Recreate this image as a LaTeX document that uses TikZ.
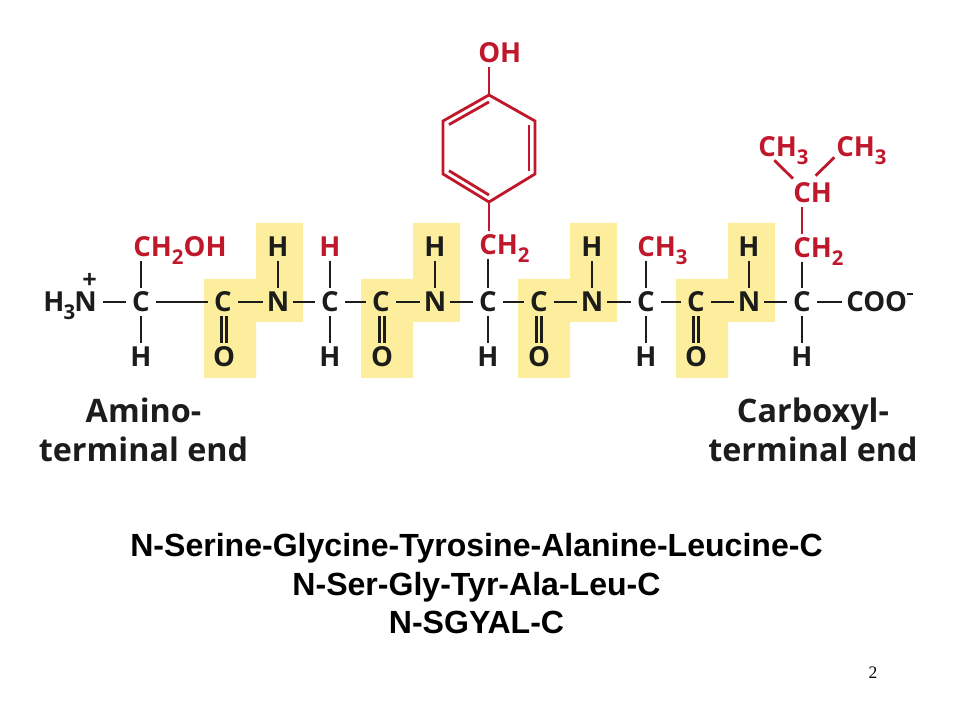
\documentclass[tikz,border=0pt]{standalone}
\usepackage{fontspec}
\setmainfont{Liberation Sans}
\newfontfamily\chemfont{Open Sans}
\newfontfamily\pagefont{Liberation Serif}
\usetikzlibrary{calc}
\definecolor{peptidebg}{HTML}{FCEE9C}
\definecolor{sidered}{HTML}{C0182B}
\definecolor{chemblack}{HTML}{1C1C1A}
\newcommand{\lowidx}[1]{\raisebox{-0.5ex}{\fontsize{14.5}{14.5}\selectfont #1}}
\tikzset{
  atom/.style={font=\chemfont\fontsize{19.6}{20}\selectfont\bfseries, text=chemblack, inner sep=0pt,
    text height=14pt, text depth=0pt, minimum width=0.75cm, minimum height=0.7cm},
  side/.style={atom, text=sidered, minimum width=0pt},
  bond/.style={line width=2pt, chemblack},
  redbond/.style={line width=2pt, sidered},
  dblbond/.style={bond, double=peptidebg, double distance=1.6pt},
  endlabel/.style={font=\chemfont\fontsize{23}{28}\selectfont\bfseries, text=chemblack, align=center, inner sep=0pt},
  nameline/.style={font=\fontsize{22.8}{22.8}\selectfont\bfseries, text=black, inner sep=0pt,
    text height=16.5pt, text depth=0pt}
}
\begin{document}
\begin{tikzpicture}[x=0.025cm,y=-0.025cm]
    \useasboundingbox (0,0) rectangle (960,720);

    % Peptide groups
    \foreach \dx in {0,157,314,472}
        \fill[peptidebg, shift={(\dx,0)}] (204,279) -- (256,279) -- (256,223) -- (303,223) -- (303,322)
            -- (256,322) -- (256,378) -- (204,378) -- cycle;

    % Backbone
    \node[atom, anchor=east, minimum width=0pt, inner xsep=0.15cm] (amino) at (103,302)
        {H\kern-0.6pt\lowidx{3}\kern-0.6pt N\llap{\raisebox{16.5pt}{\fontsize{18}{18}\selectfont +}}};
    \node[atom] (ca1) at (141,302) {C};
    \node[atom] (co1) at (223,302) {C};
    \node[atom] (n1)  at (278,302) {N};
    \node[atom] (ca2) at (330,302) {C};
    \node[atom] (co2) at (381,302) {C};
    \node[atom] (n2)  at (435,302) {N};
    \node[atom] (ca3) at (488,302) {C};
    \node[atom] (co3) at (539,302) {C};
    \node[atom] (n3)  at (592,302) {N};
    \node[atom] (ca4) at (646,302) {C};
    \node[atom] (co4) at (696,302) {C};
    \node[atom] (n4)  at (749,302) {N};
    \node[atom] (ca5) at (802,302) {C};
    \node[atom, anchor=west, minimum width=0pt, inner xsep=0.1cm] (coo) at (842,302)
        {COO\raisebox{0.8ex}{\rule[0.3ex]{0.22em}{1.8pt}}};
    \foreach \a/\b in {amino/ca1,ca1/co1,co1/n1,n1/ca2,ca2/co2,co2/n2,n2/ca3,ca3/co3,co3/n3,n3/ca4,ca4/co4,co4/n4,n4/ca5,ca5/coo}
        \draw[bond] (\a) -- (\b);

    % H and O below, H above
    \foreach \name/\x in {h1/141,h2/330,h3/488,h4/646,h5/802}
        \node[atom] (\name) at (\x,357) {H};
    \foreach \a/\b in {ca1/h1,ca2/h2,ca3/h3,ca4/h4,ca5/h5}
        \draw[bond] (\a) -- (\b);
    \foreach \i/\x in {1/224,2/382,3/539,4/696} {
        \node[atom] (o\i) at (\x,357) {O};
        \draw[dblbond] (co\i.south -| o\i) -- (o\i);
    }
    \foreach \i/\x in {1/278,2/435,3/592,4/749} {
        \node[atom] (nh\i) at (\x,247) {H};
        \draw[bond] (n\i) -- (nh\i);
    }

    % Serine
    \node[side, anchor=west] (ser) at (133,247) {CH\lowidx{2}OH};
    \draw[bond] (ca1.north) -- (ca1.north |- ser.south);

    % Glycine
    \node[atom, text=sidered] (gly) at (330,247) {H};
    \draw[bond] (ca2) -- (gly);

    % Tyrosine
    \node[side, anchor=west] (tyrch) at (479,245) {CH\lowidx{2}};
    \draw[bond] (ca3.north) -- (ca3.north |- tyrch.south);
    \coordinate (rc) at (489,148.5);
    \coordinate (r1) at (489,95);
    \coordinate (r2) at (443,121);
    \coordinate (r3) at (443,174);
    \coordinate (r4) at (489,202);
    \coordinate (r5) at (535,174);
    \coordinate (r6) at (535,121);
    \draw[redbond, line join=miter] (r1) -- (r2) -- (r3) -- (r4) -- (r5) -- (r6) -- cycle;
    \foreach \a/\b in {r1/r2,r3/r4,r5/r6}
        \draw[redbond] ($(rc)!0.87!(\a)$) -- ($(rc)!0.87!(\b)$);
    \node[side, anchor=west] (tyroh) at (478,53) {OH};
    \draw[redbond] (r1) -- (r1 |- tyroh.south);
    \draw[redbond] (r4) -- (r4 |- tyrch.north);

    % Alanine
    \node[side, anchor=west] (ala) at (637,247) {CH\lowidx{3}};
    \draw[bond] (ca4.north) -- (ca4.north |- ala.south);

    % Leucine
    \node[side, anchor=west] (leuch) at (793,248) {CH\lowidx{2}};
    \node[side, anchor=west] (leucg) at (793,193) {CH};
    \node[side, anchor=west] (leuma) at (758,147) {CH\lowidx{3}};
    \node[side, anchor=west] (leumb) at (836,147) {CH\lowidx{3}};
    \draw[bond] (ca5.north) -- (ca5.north |- leuch.south);
    \draw[redbond] (ca5.north |- leuch.north) -- (ca5.north |- leucg.south);
    \draw[redbond] ($(leuma.south)+(-9,-1)$) -- (leucg.north west);
    \draw[redbond] ($(leumb.south)+(-27,-4)$) -- ($(leucg.north)+(3,-3)$);

    % End labels
    \node[endlabel] (nterm) at (143.5,430) {Amino-\\terminal end};
    \node[endlabel] (cterm) at (813,430) {Carboxyl-\\terminal end};

    % Sequence lines
    \node[nameline] (seqa) at (476.5,545) {N-Serine-Glycine-Tyrosine-Alanine-Leucine-C};
    \node[nameline] (seqb) at (476.5,584) {N-Ser-Gly-Tyr-Ala-Leu-C};
    \node[nameline] (seqc) at (476.5,622) {N-SGYAL-C};

    \node[font=\pagefont\fontsize{12.5}{12.5}\selectfont, inner sep=0pt] (pagenum) at (873,673) {2};
\end{tikzpicture}
\end{document}
